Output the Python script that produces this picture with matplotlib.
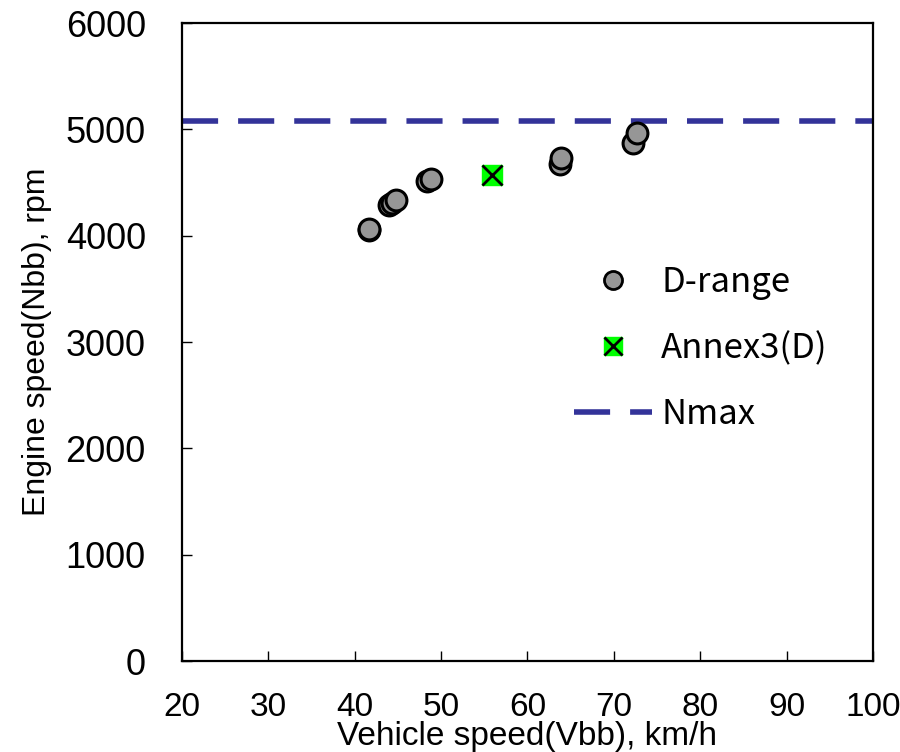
import matplotlib
matplotlib.use('Agg')
import matplotlib.pyplot as plt
from matplotlib.lines import Line2D

# D-range measured points (vehicle speed km/h, engine speed rpm)
d_speed = [41.6, 41.7, 44.0, 44.3, 44.8, 48.4, 48.8, 63.8, 63.9, 72.2, 72.7]
d_rpm = [4055, 4065, 4290, 4310, 4335, 4517, 4533, 4674, 4728, 4869, 4969]

# Annex3 (D) point
annex_speed = [55.9]
annex_rpm = [4571]

# Maximum engine speed
n_max = 5080

x_ticks = [20, 30, 40, 50, 60, 70, 80, 90, 100]
y_ticks = [0, 1000, 2000, 3000, 4000, 5000, 6000]

plt.rcParams['font.family'] = ['Liberation Sans', 'DejaVu Sans']

fig = plt.figure(figsize=(9, 7.52), dpi=100)
ax = fig.add_axes([0.2022, 0.121, 0.7678, 0.8484])

ax.axhline(n_max, color='#333399', lw=4, dashes=(6.5, 3.6), zorder=1)
ax.plot(d_speed, d_rpm, 'o', ms=15, mfc='#969696', mec='black', mew=2.2, zorder=3)
ax.plot(annex_speed, annex_rpm, 's', ms=14, mfc='#00ff00', mec='#00ff00', zorder=4)
ax.plot(annex_speed, annex_rpm, 'x', ms=14, mec='black', mew=2, zorder=5)

ax.set_xlim(20, 100)
ax.set_ylim(0, 6000)
ax.set_xticks(x_ticks)
ax.set_yticks(y_ticks)
ax.tick_params(direction='in', length=7, width=1, top=False, right=False)
ax.tick_params(axis='y', labelsize=26, pad=26)
ax.tick_params(axis='x', labelsize=24, pad=22)
for sp in ax.spines.values():
    sp.set_linewidth(1.6)

ax.set_ylabel('Engine speed(Nbb), rpm', fontsize=23, labelpad=10)
ax.set_xlabel('Vehicle speed(Vbb), km/h', fontsize=24, labelpad=-1)

handles = [
    Line2D([], [], ls='none', marker='o', ms=13, mfc='#969696', mec='black', mew=2),
    (Line2D([], [], ls='none', marker='s', ms=13, mfc='#00ff00', mec='#00ff00'),
     Line2D([], [], ls='none', marker='x', ms=13, mec='black', mew=2)),
    Line2D([], [], color='#333399', lw=4, dashes=(6.5, 3.6)),
]
ax.legend(handles, ['D-range', 'Annex3(D)', 'Nmax'], loc='upper left',
          bbox_to_anchor=(0.522, 0.67), frameon=False, handlelength=2.25,
          labelspacing=0.9, handletextpad=0.26,
          prop={'family': ['Noto Sans CJK JP', 'DejaVu Sans'], 'size': 25})

fig.savefig('out.png', dpi=100)
